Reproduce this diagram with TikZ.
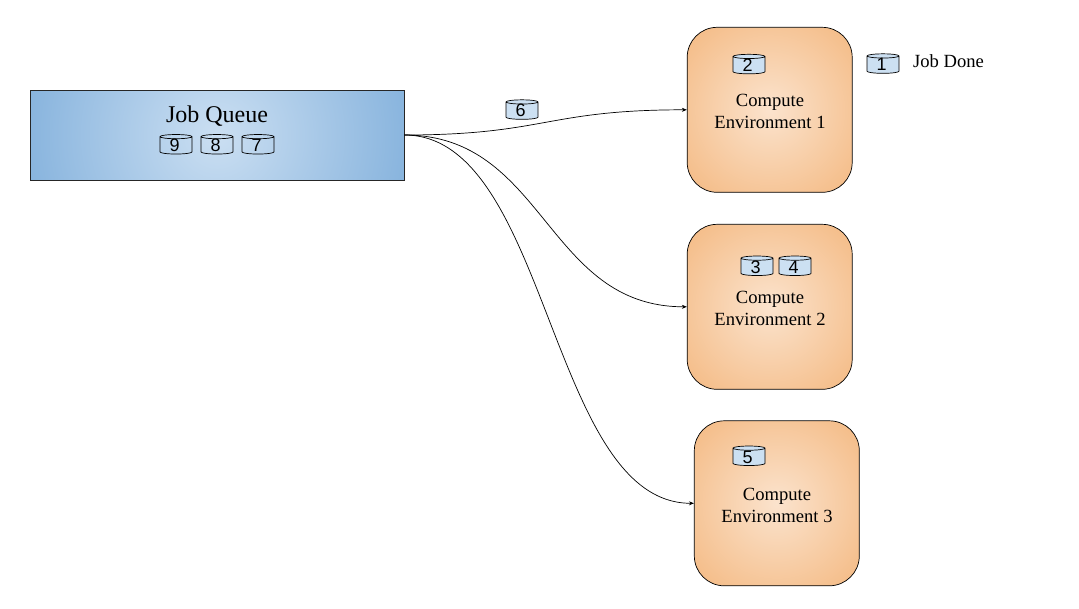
\documentclass[tikz,border=0pt]{standalone}
\usepackage{fontspec}
\setmainfont{Liberation Serif}
\newfontfamily\digitfont{Liberation Sans}
\usetikzlibrary{shapes.geometric,arrows.meta}
\definecolor{qin}{HTML}{CBDFF2}
\definecolor{qout}{HTML}{6FA4D6}
\definecolor{cin}{HTML}{FBE3CD}
\definecolor{cout}{HTML}{F2AE6E}
\definecolor{jobfill}{HTML}{CCE0F2}
\pgfdeclareradialshading{qshade}{\pgfpointorigin}{color(0bp)=(qin); color(34.4bp)=(qout); color(50bp)=(qout)}
\pgfdeclareradialshading{cshade}{\pgfpointorigin}{color(0bp)=(cin); color(32bp)=(cout); color(50bp)=(cout)}
\newcommand{\jobdigit}[1]{\raisebox{-1.5pt}{\kern-1.4pt #1\kern1.4pt}}
\tikzset{
  x=1pt,y=-1pt,
  queuebox/.style={draw=black!85,line width=0.7pt,minimum width=374pt,minimum height=90pt,inner sep=0pt,
    path picture={\shade[shading=qshade] (path picture bounding box.center) circle[radius=192pt];}},
  envbox/.style={draw=black,line width=0.7pt,rounded corners=30pt,minimum width=165pt,minimum height=165pt,inner sep=0pt,
    path picture={\shade[shading=cshade] (path picture bounding box.center) circle[radius=117pt];}},
  jobbase/.style={cylinder,shape border rotate=90,aspect=0.42,draw=black,line width=0.7pt,
    minimum width=32pt,minimum height=19.5pt,inner sep=0pt,font=\digitfont\fontsize{18}{18}\selectfont,text=black},
  jobempty/.style={jobbase},
  jobfull/.style={jobbase,cylinder uses custom fill,cylinder body fill=jobfill,cylinder end fill=jobfill},
  envlabel/.style={font=\fontsize{18.6}{22}\selectfont,align=center,inner sep=0pt},
  titlelabel/.style={font=\fontsize{24}{24}\selectfont,inner sep=0pt},
  donelabel/.style={font=\fontsize{18.6}{18.6}\selectfont,inner sep=0pt},
  flow/.style={draw=black,line width=0.7pt,-{Stealth[length=5pt,width=4pt]}}
}
\begin{document}
\begin{tikzpicture}
\useasboundingbox (0,0) rectangle (1079,608);
\node[queuebox] (q) at (217,135) {};
\node[envbox] (c1) at (769.7,109.8) {};
\node[envbox] (c2) at (769.7,306.8) {};
\node[envbox] (c3) at (776.8,503.3) {};
\node[titlelabel] (qt) at (217,116.5) {Job Queue};
\node[envlabel] (t1) at (770,111.5) {Compute\\Environment 1};
\node[envlabel] (t2) at (770,308.5) {Compute\\Environment 2};
\node[envlabel] (t3) at (777,505.5) {Compute\\Environment 3};
\node[donelabel] (dn) at (948.5,61) {Job Done};
\node[jobempty] (j9) at (176,145.5) {\jobdigit{9}};
\node[jobempty] (j8) at (217,145.5) {\jobdigit{8}};
\node[jobempty] (j7) at (258,145.5) {\jobdigit{7}};
\node[jobfull] (j6) at (522,110.8) {\jobdigit{6}};
\node[jobfull] (j2) at (749,65.3) {\jobdigit{2}};
\node[jobfull] (j1) at (883,64.8) {\jobdigit{1}};
\node[jobfull] (j3) at (757,267) {\jobdigit{3}};
\node[jobfull] (j4) at (795,267) {\jobdigit{4}};
\node[jobfull] (j5) at (749,457) {\jobdigit{5}};
\draw[flow] (q.east) .. controls +(141,0) and +(-141,0) .. (c1.west);
\draw[flow] (q.east) .. controls +(141,0) and +(-141,0) .. (c2.west);
\draw[flow] (q.east) .. controls +(145,0) and +(-145,0) .. (c3.west);
\end{tikzpicture}
\end{document}
